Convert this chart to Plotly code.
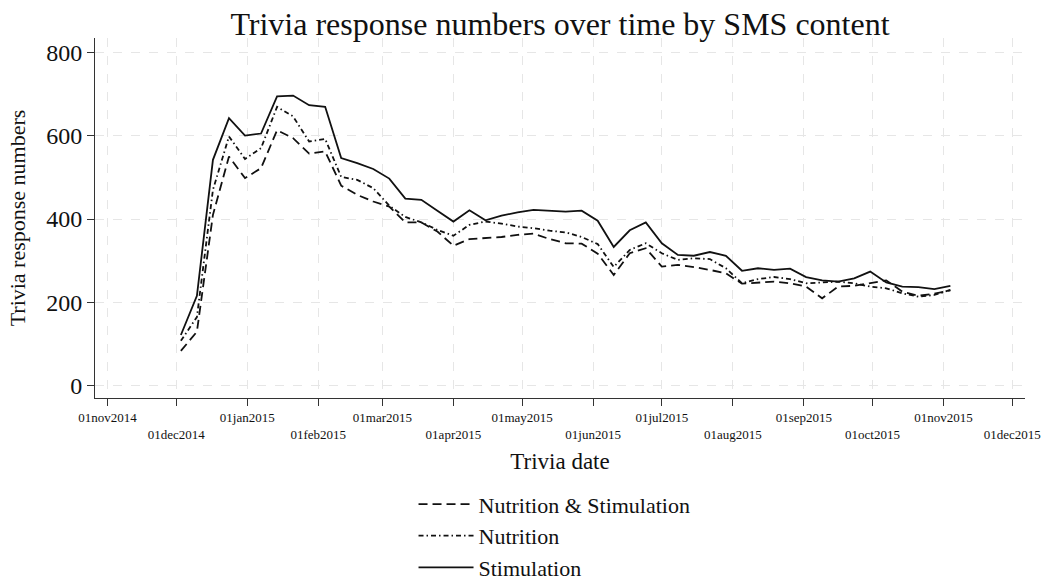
import plotly.graph_objects as go

# Weekly trivia dates
dates = [
    "2014-12-03", "2014-12-10", "2014-12-17", "2014-12-24", "2014-12-31",
    "2015-01-07", "2015-01-14", "2015-01-21", "2015-01-28",
    "2015-02-04", "2015-02-11", "2015-02-18", "2015-02-25",
    "2015-03-04", "2015-03-11", "2015-03-18", "2015-03-25",
    "2015-04-01", "2015-04-08", "2015-04-15", "2015-04-22", "2015-04-29",
    "2015-05-06", "2015-05-13", "2015-05-20", "2015-05-27",
    "2015-06-03", "2015-06-10", "2015-06-17", "2015-06-24",
    "2015-07-01", "2015-07-08", "2015-07-15", "2015-07-22", "2015-07-29",
    "2015-08-05", "2015-08-12", "2015-08-19", "2015-08-26",
    "2015-09-02", "2015-09-09", "2015-09-16", "2015-09-23", "2015-09-30",
    "2015-10-07", "2015-10-14", "2015-10-21", "2015-10-28",
    "2015-11-04",
]

nutrition_stimulation = [
    84, 130, 410, 550, 498, 522, 613, 594, 557, 562,
    480, 458, 442, 430, 392, 392, 370, 336, 352, 354,
    357, 362, 365, 352, 342, 341, 317, 266, 318, 330,
    286, 290, 285, 278, 270, 245, 248, 250, 246, 238,
    210, 238, 240, 246, 253, 226, 216, 221, 229,
]

nutrition = [
    108, 165, 470, 598, 544, 570, 669, 646, 586, 592,
    501, 494, 474, 432, 405, 392, 374, 360, 386, 394,
    389, 382, 378, 372, 368, 357, 340, 285, 326, 342,
    318, 302, 306, 304, 282, 246, 256, 261, 256, 246,
    248, 250, 246, 238, 234, 222, 214, 218, 230,
]

stimulation = [
    122, 216, 542, 642, 600, 605, 694, 696, 673, 669,
    546, 534, 520, 497, 449, 446, 420, 394, 421, 397,
    408, 416, 422, 420, 418, 420, 396, 333, 373, 392,
    342, 314, 312, 321, 312, 276, 282, 278, 281, 261,
    253, 250, 258, 274, 248, 238, 237, 232, 240,
]

# Monthly x ticks, labels staggered over two rows
month_ticks = [
    "2014-11-01", "2014-12-01", "2015-01-01", "2015-02-01", "2015-03-01",
    "2015-04-01", "2015-05-01", "2015-06-01", "2015-07-01", "2015-08-01",
    "2015-09-01", "2015-10-01", "2015-11-01", "2015-12-01",
]
month_labels = [
    "01nov2014", "01dec2014", "01jan2015", "01feb2015", "01mar2015",
    "01apr2015", "01may2015", "01jun2015", "01jul2015", "01aug2015",
    "01sep2015", "01oct2015", "01nov2015", "01dec2015",
]
staggered = [lab if i % 2 == 0 else "\u00a0<br>" + lab for i, lab in enumerate(month_labels)]

y_ticks = [0, 200, 400, 600, 800]

FONT = "Liberation Serif"
INK = "#111111"
GRID = "#e6e6e6"

series = [
    ("Nutrition & Stimulation", nutrition_stimulation, "9px,5px"),
    ("Nutrition", nutrition, "5px,3px,1.5px,3px"),
    ("Stimulation", stimulation, "solid"),
]

fig = go.Figure()
for k, (name, vals, dash) in enumerate(series):
    fig.add_trace(go.Scatter(
        x=dates, y=vals, name=name, mode="lines",
        legendgroup=f"g{k}",
        line=dict(color=INK, width=1.8, dash=dash),
    ))

fig.update_layout(
    width=1045, height=581,
    margin=dict(l=95, r=20, t=38, b=183, autoexpand=False),
    paper_bgcolor="white", plot_bgcolor="white",
    font=dict(family=FONT, color=INK),
    title=dict(
        text="Trivia response numbers over time by SMS content",
        font=dict(family=FONT, size=32, color=INK),
        x=0.5, xref="paper", xanchor="center",
        y=1 - 24 / 581, yref="container", yanchor="middle",
    ),
    showlegend=True,
    legend=dict(
        orientation="v",
        x=0.3425, xanchor="left",
        y=-0.237, yanchor="top",
        font=dict(family=FONT, size=22, color=INK),
        itemwidth=55,
        tracegroupgap=0,
        bgcolor="rgba(0,0,0,0)",
    ),
)

fig.update_xaxes(
    type="date",
    range=["2014-10-26 12:00", "2015-12-06 14:00"],
    tickvals=month_ticks, ticktext=staggered,
    tickfont=dict(family=FONT, size=13, color=INK),
    ticks="outside", ticklen=7, tickcolor="#333333", tickwidth=1,
    showline=True, linecolor="#333333", linewidth=1,
    showgrid=True, gridcolor=GRID, griddash="dash", gridwidth=1,
    zeroline=False, automargin=False,
    title=dict(text="Trivia date", font=dict(family=FONT, size=23, color=INK), standoff=12),
)

fig.update_yaxes(
    range=[-29, 834],
    tickvals=y_ticks,
    tickfont=dict(family=FONT, size=24, color=INK),
    ticks="outside", ticklen=7, tickcolor="#333333", tickwidth=1,
    showline=True, linecolor="#333333", linewidth=1,
    showgrid=True, gridcolor=GRID, griddash="dash", gridwidth=1,
    zeroline=False, automargin=False,
    title=dict(text="Trivia response numbers", font=dict(family=FONT, size=22, color=INK), standoff=14),
)

fig.write_html("out.html")
